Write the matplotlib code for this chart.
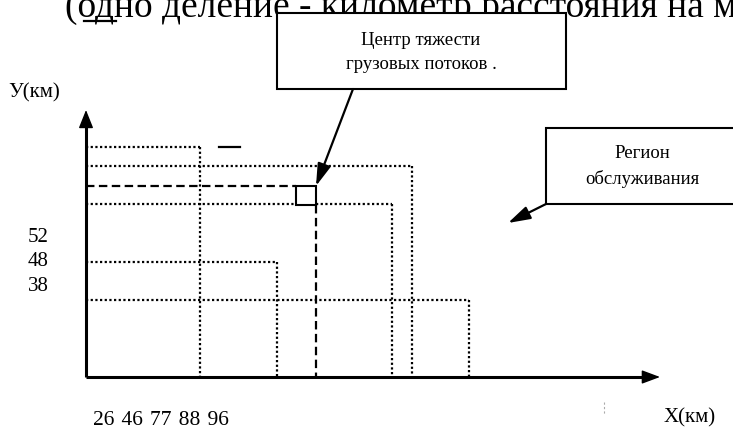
import matplotlib
matplotlib.use('Agg')
import matplotlib.pyplot as plt
from matplotlib.patches import Rectangle

# схема задана в пикселях картинки, ось y направлена вниз
title_text = '(одно деление - километр расстояния на местности)'
x_label = 'X(км)'
y_label = 'У(км)'
y_ticks = ['52', '48', '38']
y_ticks_base = [242, 266, 291]
x_ticks = ['26', '46', '77', '88', '96']
box1_lines = ['Центр тяжести', 'грузовых потоков .']
box2_lines = ['Регион', 'обслуживания']

origin = (86, 377)
x_axis_end = 660
y_axis_end = 110

# горизонтальные пунктиры: y, x0, x1
h_dotted = [(147, 86, 200), (166, 86, 412), (204, 86, 296), (204, 316, 392),
            (262, 86, 277), (300, 86, 469)]
# вертикальные пунктиры: x, y0, y1
v_dotted = [(200, 147, 377), (277, 262, 377), (392, 204, 377),
            (412, 166, 377), (469, 300, 377)]

# центр тяжести (квадрат) и штриховые линии к осям
center_box = (296, 186, 20, 19)
h_dashed = (186, 86, 296)
v_dashed = (316, 205, 377)

# выноски: x0, y0, x1, y1
box1 = (277, 13, 566, 89)
box2 = (546, 128, 745, 204)
arrow1 = ((353, 89), (316, 186))
arrow2 = ((546, 204), (508, 223))

serif = ['Liberation Serif', 'DejaVu Serif']

fig = plt.figure(figsize=(7.33, 4.28), dpi=100)
ax = fig.add_axes([0, 0, 1, 1])
ax.set_xlim(0, 733)
ax.set_ylim(428, 0)
ax.axis('off')

# заголовок, обрезанный сверху
ax.text(65, 17, title_text, fontsize=27, family=serif, va='baseline', ha='left', zorder=1)
ax.plot([84, 116], [21, 21], color='k', lw=1.6)

dot = (0, (1, 1.1))
for y, x0, x1 in h_dotted:
    ax.plot([x0, x1], [y, y], color='k', lw=1.6, linestyle=dot)
for x, y0, y1 in v_dotted:
    ax.plot([x, x], [y0, y1], color='k', lw=1.6, linestyle=dot)

dash = (0, (3.8, 2.0))
ax.plot([h_dashed[1], h_dashed[2]], [h_dashed[0], h_dashed[0]], color='k', lw=1.6, linestyle=dash)
ax.plot([v_dashed[0], v_dashed[0]], [v_dashed[1], v_dashed[2]], color='k', lw=1.6, linestyle=dash)
ax.add_patch(Rectangle(center_box[:2], center_box[2], center_box[3],
                       fill=False, edgecolor='k', lw=1.5))

# короткий штрих
ax.plot([219, 240], [147, 147], color='k', lw=1.6)

# оси
ax.plot([origin[0], x_axis_end - 10], [origin[1], origin[1]], color='k', lw=2.2, solid_capstyle='butt')
ax.plot([origin[0], origin[0]], [origin[1], y_axis_end + 10], color='k', lw=2.2, solid_capstyle='butt')
ax.annotate('', xy=(x_axis_end, origin[1]), xytext=(x_axis_end - 20, origin[1]),
            arrowprops=dict(arrowstyle='-|>,head_length=0.75,head_width=0.28', color='k',
                            lw=1, mutation_scale=15, shrinkA=0, shrinkB=0))
ax.annotate('', xy=(origin[0], y_axis_end), xytext=(origin[0], y_axis_end + 20),
            arrowprops=dict(arrowstyle='-|>,head_length=0.75,head_width=0.3', color='k',
                            lw=1, mutation_scale=15, shrinkA=0, shrinkB=0))

# выноски
for b in (box1, box2):
    ax.add_patch(Rectangle((b[0], b[1]), b[2] - b[0], b[3] - b[1], facecolor='white',
                           edgecolor='k', lw=1.5, zorder=3))
for a in (arrow1, arrow2):
    ax.annotate('', xy=a[1], xytext=a[0],
                arrowprops=dict(arrowstyle='-|>,head_length=0.9,head_width=0.27', color='k',
                                lw=1.6, mutation_scale=15, shrinkA=0, shrinkB=0), zorder=4)

ax.text(421, 45, box1_lines[0], fontsize=13.5, family=serif, ha='center', va='baseline', zorder=5)
ax.text(421, 69, box1_lines[1], fontsize=13.5, family=serif, ha='center', va='baseline', zorder=5)
ax.text(642, 158, box2_lines[0], fontsize=13.5, family=serif, ha='center', va='baseline', zorder=5)
ax.text(642, 184, box2_lines[1], fontsize=13.5, family=serif, ha='center', va='baseline', zorder=5)

# подписи
ax.text(8, 97, y_label, fontsize=15, family=serif, va='baseline')
ax.text(664, 422, x_label, fontsize=15, family=serif, va='baseline')
for t, yb in zip(y_ticks, y_ticks_base):
    ax.text(28, yb, t, fontsize=15, family=serif, va='baseline')
ax.text(93, 425, '\u2004'.join(x_ticks), fontsize=15.5, family=serif, va='baseline')

# едва заметная метка у подписи X
ax.plot([604, 604], [402, 415], color='#aaaaaa', lw=0.8, linestyle=(0, (2, 2)))

fig.savefig('out.png', dpi=100)
